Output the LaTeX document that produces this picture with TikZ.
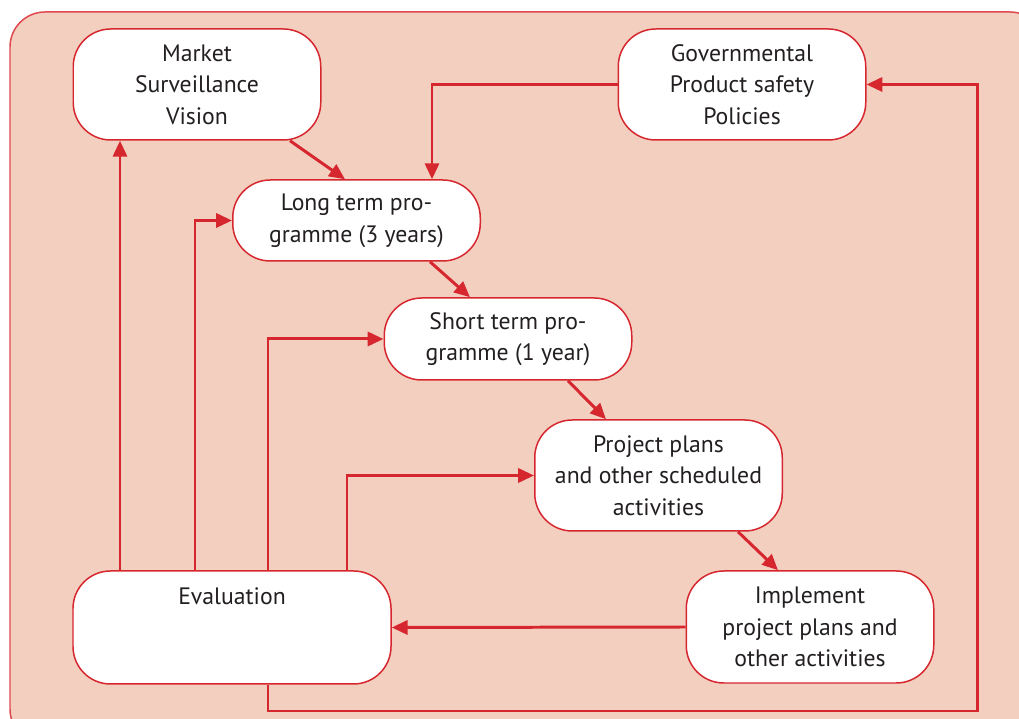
\documentclass[tikz,border=0pt]{standalone}
\usepackage{fontspec}
\setmainfont{PT Sans}
\usepackage{tikz}
\usetikzlibrary{arrows.meta,positioning}
\definecolor{msred}{RGB}{214,39,47}
\definecolor{msframe}{RGB}{222,72,78}
\definecolor{msbg}{RGB}{243,207,192}
\definecolor{mstext}{RGB}{35,31,32}

\begin{document}
\begin{tikzpicture}[
  boxnode/.style={draw=msred, line width=0.85pt, fill=white, rounded corners=0.75cm,
    font=\fontsize{13.5}{18}\selectfont, text=mstext, align=center,
    minimum width=4.95cm, inner sep=0pt},
  arr/.style={-{Triangle[length=9pt,width=8pt]}, line width=1.7pt, msred}]
\useasboundingbox (0,0) rectangle (20.38,14.38);
% Background
\draw[msframe, line width=0.85pt, fill=msbg, rounded corners=0.7cm]
  (0.2,14.14) rectangle (20.9,-0.5);
% Nodes
\node[boxnode, minimum height=2.22cm] (market) at (3.94,12.69) {Market\\Surveillance\\Vision};
\node[boxnode, minimum height=2.22cm] (gov) at (14.84,12.69) {Governmental\\Product safety\\Policies};
\node[boxnode, minimum height=1.62cm] (long) at (7.13,9.97) {Long term pro-\\gramme (3 years)};
\node[boxnode, minimum height=1.64cm] (short) at (10.16,7.60) {Short term pro-\\gramme (1 year)};
\node[boxnode, minimum height=2.22cm] (project) at (13.17,4.87) {Project plans\\and other scheduled\\activities};
\node[boxnode, minimum height=2.24cm] (impl) at (16.20,1.84) {Implement\\project plans and\\other activities};
\node[boxnode, minimum height=2.26cm, minimum width=6.36cm] (eval) at (4.64,1.83) {Evaluation\\~\\~};
% Feedback start points on Evaluation
\coordinate (e1) at ([xshift=-2.24cm]eval.north);
\coordinate (e2) at ([xshift=-0.74cm]eval.north);
\coordinate (e3) at ([xshift=0.72cm]eval.north);
\coordinate (e4) at ([xshift=2.30cm]eval.north);
\coordinate (e5) at ([xshift=0.72cm]eval.south);
\coordinate (loop) at (19.54,0.16);
% Main flow
\draw[arr] ([xshift=1.86cm]market.south) -- ([xshift=-0.23cm]long.north);
\draw[arr] (gov.west) -| ([xshift=1.51cm]long.north);
\draw[arr] ([xshift=1.47cm]long.south) -- ([xshift=-0.76cm]short.north);
\draw[arr] ([xshift=1.20cm]short.south) -- ([xshift=-1.05cm]project.north);
\draw[arr] ([xshift=1.59cm]project.south) -- ([xshift=-0.64cm]impl.north);
\draw[arr] (impl.west) -- (eval.east);
% Feedback from Evaluation
\draw[arr] (e1) -- (e1 |- market.south);
\draw[arr] (e2) |- (long.west);
\draw[arr] (e3) |- (short.west);
\draw[arr] (e4) |- (project.west);
\draw[arr] (e5) |- (loop) |- (gov.east);
\end{tikzpicture}
\end{document}
